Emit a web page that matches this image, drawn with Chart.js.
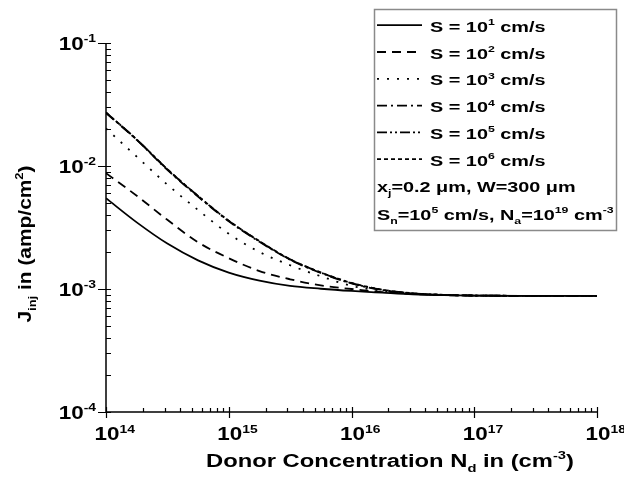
<!DOCTYPE html>
<html>
<head>
<meta charset="utf-8">
<script src="https://cdn.jsdelivr.net/npm/chart.js@4/dist/chart.umd.min.js"></script>
<style>
html,body{margin:0;padding:0;background:#fff;}
canvas{display:block;}
</style>
</head>
<body>
<canvas id="c" width="624" height="482"></canvas>
<script>
// Donor concentration N_d (cm^-3)
const donorConc = [1e14, 1.78e14, 3.16e14, 5.62e14, 1e15, 1.78e15, 3.16e15, 5.62e15, 1e16, 1.78e16, 3.16e16, 5.62e16, 1e17, 3.16e17, 1e18];
// Injected current density J_inj (amp/cm^2) for each surface recombination velocity S
const jS1 = [5.47e-3, 3.48e-3, 2.34e-3, 1.71e-3, 1.36e-3, 1.17e-3, 1.06e-3, 1.005e-3, 9.64e-4, 9.33e-4, 9.05e-4, 8.9e-4, 8.83e-4, 8.8e-4, 8.8e-4];
const jS2 = [8.73e-3, 5.73e-3, 3.65e-3, 2.40e-3, 1.78e-3, 1.40e-3, 1.20e-3, 1.07e-3, 1.0e-3, 9.45e-4, 9.1e-4, 8.92e-4, 8.84e-4, 8.8e-4, 8.8e-4];
const jS3 = [2.02e-2, 1.19e-2, 7.06e-3, 4.39e-3, 2.81e-3, 2.0e-3, 1.56e-3, 1.27e-3, 1.06e-3, 9.7e-4, 9.2e-4, 8.95e-4, 8.85e-4, 8.8e-4, 8.8e-4];
const jS4 = [2.70e-2, 1.63e-2, 9.3e-3, 5.64e-3, 3.55e-3, 2.42e-3, 1.73e-3, 1.35e-3, 1.11e-3, 9.8e-4, 9.2e-4, 8.95e-4, 8.85e-4, 8.8e-4, 8.8e-4];
const jS5 = [2.72e-2, 1.64e-2, 9.4e-3, 5.70e-3, 3.58e-3, 2.44e-3, 1.74e-3, 1.36e-3, 1.115e-3, 9.85e-4, 9.22e-4, 8.96e-4, 8.85e-4, 8.8e-4, 8.8e-4];
const jS6 = [2.72e-2, 1.64e-2, 9.42e-3, 5.71e-3, 3.59e-3, 2.45e-3, 1.745e-3, 1.365e-3, 1.12e-3, 9.88e-4, 9.23e-4, 8.96e-4, 8.85e-4, 8.8e-4, 8.8e-4];
const sExponents = ['1', '2', '3', '4', '5', '6'];
const xTickExps = [14, 15, 16, 17, 18];
const yTickExps = [-4, -3, -2, -1];

const seriesValues = [jS1, jS2, jS3, jS4, jS5, jS6];
const dashes = [[], [9, 6], [2, 8], [10, 4, 2, 4], [10, 3, 2, 3, 2, 3], [4, 3]];

const FONT = '"Liberation Sans", Arial, sans-serif';

function drawRich(ctx, parts, x, y, size, align, sx, sy) {
  sx = sx || 1; sy = sy || 1;
  const fontFor = k => 'bold ' + (k === 0 ? size : size * 0.62) + 'px ' + FONT;
  let widths = parts.map(p => { ctx.font = fontFor(p[1]); return ctx.measureText(p[0]).width; });
  let total = widths.reduce((a, b) => a + b, 0);
  let x0 = 0;
  if (align === 'center') x0 = -total / 2;
  else if (align === 'right') x0 = -total;
  else if (align === 'firstcenter') x0 = -widths[0] / 2;
  ctx.save();
  ctx.translate(x, y);
  ctx.scale(sx, sy);
  ctx.textBaseline = 'alphabetic';
  ctx.textAlign = 'left';
  ctx.fillStyle = '#000';
  let cx = x0;
  parts.forEach((p, i) => {
    ctx.font = fontFor(p[1]);
    let dy = p[1] === 1 ? -size * 0.42 : (p[1] === 2 ? size * 0.28 : 0);
    ctx.fillText(p[0], cx, dy);
    cx += widths[i];
  });
  ctx.restore();
}

const decorPlugin = {
  id: 'decor',
  afterDraw(chart) {
    const ctx = chart.ctx;
    const xs = chart.scales.x, ys = chart.scales.y;
    const ca = chart.chartArea;
    ctx.save();
    ctx.strokeStyle = '#000';
    ctx.lineWidth = 1.5;
    ctx.setLineDash([]);
    // axes lines
    ctx.beginPath();
    ctx.moveTo(ca.left, ca.top);
    ctx.lineTo(ca.left, ca.bottom);
    ctx.moveTo(ca.left, ca.bottom);
    ctx.lineTo(ca.right, ca.bottom);
    ctx.stroke();
    ctx.lineWidth = 1.2;
    ctx.beginPath();
    // y ticks
    yTickExps.forEach(e => {
      for (let k = 1; k <= 9; k++) {
        if (e === -1 && k > 1) break;
        const v = k * Math.pow(10, e);
        const py = Math.round(ys.getPixelForValue(v)) + 0.5;
        if (k === 1) { ctx.moveTo(ca.left - 8, py); ctx.lineTo(ca.left + 5, py); }
        else { ctx.moveTo(ca.left, py); ctx.lineTo(ca.left + 5, py); }
      }
    });
    // x ticks
    xTickExps.forEach(e => {
      for (let k = 1; k <= 9; k++) {
        if (e === 18 && k > 1) break;
        const v = k * Math.pow(10, e);
        const px = Math.round(xs.getPixelForValue(v)) + 0.5;
        if (k === 1) { ctx.moveTo(px, ca.bottom - 5); ctx.lineTo(px, ca.bottom + 6); }
        else { ctx.moveTo(px, ca.bottom - 4); ctx.lineTo(px, ca.bottom); }
      }
    });
    ctx.stroke();

    // tick labels
    yTickExps.forEach(e => {
      const py = ys.getPixelForValue(Math.pow(10, e));
      drawRich(ctx, [['10', 0], [String(e), 1]], 96, py + 6.5, 17.5, 'right', 1.28);
    });
    xTickExps.forEach(e => {
      const px = xs.getPixelForValue(Math.pow(10, e));
      drawRich(ctx, [['10', 0], [String(e), 1]], px + 1, 440, 17.5, 'firstcenter', 1.28);
    });

    // axis titles
    drawRich(ctx, [['Donor Concentration N', 0], ['d', 2], [' in (cm', 0], ['-3', 1], [')', 0]], 390, 467, 18, 'center', 1.32);
    ctx.save();
    ctx.translate(31, 244);
    ctx.rotate(-Math.PI / 2);
    drawRich(ctx, [['J', 0], ['inj', 2], [' in (amp/cm', 0], ['2', 1], [')', 0]], 0, 0, 18.5, 'center', 1.13);
    ctx.restore();

    // legend box
    ctx.strokeStyle = '#8a8a8a';
    ctx.lineWidth = 1.5;
    ctx.setLineDash([]);
    ctx.strokeRect(374.5, 9.5, 242, 221);
    chart.data.datasets.forEach((ds, i) => {
      const base = 31.7 + i * 26.8;
      const ly = base - 6.5;
      ctx.strokeStyle = '#000';
      ctx.lineWidth = 1.8;
      ctx.setLineDash(ds.borderDash || []);
      ctx.beginPath();
      ctx.moveTo(377, ly);
      ctx.lineTo(422, ly);
      ctx.stroke();
      ctx.setLineDash([]);
      drawRich(ctx, [['S = 10', 0], [sExponents[i], 1], [' cm/s', 0]], 430, base, 15.5, 'left', 1.28);
    });
    drawRich(ctx, [['x', 0], ['j', 2], ['=0.2 \u03bcm, W=300 \u03bcm', 0]], 377, 192, 15.5, 'left', 1.28);
    drawRich(ctx, [['S', 0], ['n', 2], ['=10', 0], ['5', 1], [' cm/s, N', 0], ['a', 2], ['=10', 0], ['19', 1], [' cm', 0], ['-3', 1]], 377, 220, 15.5, 'left', 1.28);
    ctx.restore();
  }
};

const datasets = seriesValues.map((vals, i) => ({
  label: 'S = 10^' + sExponents[i] + ' cm/s',
  data: donorConc.map((x, j) => ({ x: x, y: vals[j] })),
  borderColor: '#000',
  borderWidth: 1.8,
  borderDash: dashes[i],
  pointRadius: 0,
  fill: false,
  cubicInterpolationMode: 'monotone'
}));

new Chart(document.getElementById('c'), {
  type: 'line',
  data: { datasets: datasets },
  options: {
    responsive: false,
    animation: false,
    devicePixelRatio: 1,
    layout: { padding: { left: 106, right: 27, top: 43, bottom: 70 } },
    plugins: { legend: { display: false }, tooltip: { enabled: false } },
    scales: {
      x: { type: 'logarithmic', min: 1e14, max: 1e18, display: false },
      y: { type: 'logarithmic', min: 1e-4, max: 1e-1, display: false }
    }
  },
  plugins: [decorPlugin]
});
</script>
</body>
</html>
